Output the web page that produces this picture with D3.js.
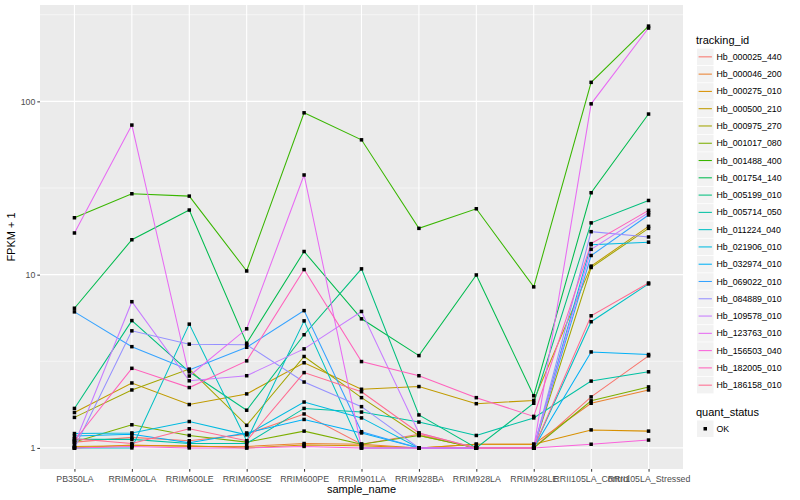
<!DOCTYPE html>
<html>
<head>
<meta charset="utf-8">
<script src="https://cdn.jsdelivr.net/npm/d3@7"></script>
<style>
  body { margin: 0; background: #fff; }
  text { font-family: "Liberation Sans", Arial, sans-serif; }
</style>
</head>
<body>
<script>
var width = 800,
    height = 500,
    panelLeft = 40,
    panelRight = 683,
    panelTop = 5,
    panelBottom = 469;

var samples = ["PB350LA", "RRIM600LA", "RRIM600LE", "RRIM600SE", "RRIM600PE", "RRIM901LA",
               "RRIM928BA", "RRIM928LA", "RRIM928LE", "RRII105LA_Control", "RRII105LA_Stressed"];

var trackingIds = ["Hb_000025_440", "Hb_000046_200", "Hb_000275_010", "Hb_000500_210", "Hb_000975_270",
                   "Hb_001017_080", "Hb_001488_400", "Hb_001754_140", "Hb_005199_010", "Hb_005714_050",
                   "Hb_011224_040", "Hb_021906_010", "Hb_032974_010", "Hb_069022_010", "Hb_084889_010",
                   "Hb_109578_010", "Hb_123763_010", "Hb_156503_040", "Hb_182005_010", "Hb_186158_010"];

// FPKM + 1, one row per tracking id, one value per sample
var fpkm = [
  [1.08, 1.15, 1.10, 1.20, 1.57, 1.05, 1.20, 1.00, 1.00, 1.97, 3.40],
  [1.00, 1.04, 1.02, 1.02, 1.06, 1.05, 1.00, 1.05, 1.05, 1.81, 2.16],
  [1.02, 1.03, 1.03, 1.00, 1.04, 1.03, 1.00, 1.05, 1.05, 1.27, 1.25],
  [1.60, 2.37, 1.78, 2.05, 3.10, 2.18, 2.26, 1.80, 1.88, 11.2, 19.0],
  [1.50, 2.16, 2.85, 1.35, 3.37, 1.95, 1.18, 1.00, 1.00, 11.0, 18.5],
  [1.08, 1.36, 1.18, 1.08, 1.25, 1.05, 1.18, 1.00, 1.00, 1.87, 2.25],
  [21.3, 29.3, 28.4, 10.5, 85.9, 60.0, 18.5, 24.0, 8.5, 128.8, 272],
  [6.4, 15.9, 23.6, 4.02, 13.6, 5.56, 3.41, 9.96, 2.00, 29.7, 84.5],
  [1.69, 5.43, 2.75, 1.65, 4.50, 10.8, 1.55, 1.00, 1.81, 19.9, 26.8],
  [1.12, 1.12, 1.06, 1.06, 1.69, 1.61, 1.41, 1.18, 1.49, 2.43, 2.75],
  [1.00, 1.00, 5.18, 1.10, 5.41, 1.00, 1.00, 1.00, 1.00, 5.35, 8.84],
  [1.21, 1.22, 1.42, 1.19, 1.84, 1.49, 1.00, 1.00, 1.00, 14.9, 15.4],
  [1.17, 1.20, 1.07, 1.22, 1.46, 1.22, 1.00, 1.00, 1.00, 3.58, 3.46],
  [6.10, 3.84, 2.82, 3.81, 6.20, 1.24, 1.00, 1.00, 1.00, 12.9, 22.1],
  [1.00, 4.74, 3.97, 3.94, 2.40, 1.73, 1.00, 1.00, 1.00, 17.7, 16.5],
  [1.05, 6.98, 2.44, 2.61, 3.73, 6.13, 1.22, 1.00, 1.00, 14.0, 22.8],
  [17.4, 73.0, 2.60, 4.87, 37.6, 1.00, 1.00, 1.00, 1.00, 96.8, 265],
  [1.00, 1.02, 1.00, 1.00, 1.02, 1.00, 1.00, 1.00, 1.00, 1.05, 1.11],
  [1.10, 2.88, 2.23, 3.18, 10.7, 3.15, 2.61, 1.95, 1.52, 15.1, 23.5],
  [1.13, 1.06, 1.29, 1.10, 2.72, 2.11, 1.22, 1.00, 1.00, 5.79, 8.95]
];

var yTicks = [1, 10, 100];
var yMinor = [Math.sqrt(10), Math.sqrt(1000), Math.sqrt(100000)];

// ggplot default hue palette for 20 levels
var colors = ["#F8766D", "#EA8331", "#D89000", "#C09B00", "#A3A500", "#7CAE00", "#39B600",
              "#00BB4E", "#00BF7D", "#00C1A3", "#00BFC4", "#00BAE0", "#00B0F6", "#35A2FF",
              "#9590FF", "#C77CFF", "#E76BF3", "#FA62DB", "#FF62BC", "#FF6C91"];

var allValues = d3.merge(fpkm);
var lo = Math.log10(d3.min(allValues)),
    hi = Math.log10(d3.max(allValues)),
    pad = (hi - lo) * 0.05;

var x = d3.scalePoint()
    .domain(samples)
    .range([panelLeft, panelRight])
    .padding(0.6);

var y = d3.scaleLog()
    .domain([Math.pow(10, lo - pad), Math.pow(10, hi + pad)])
    .range([panelBottom, panelTop]);

var svg = d3.select("body").append("svg")
    .attr("width", width)
    .attr("height", height);

svg.append("rect")
    .attr("x", panelLeft)
    .attr("y", panelTop)
    .attr("width", panelRight - panelLeft)
    .attr("height", panelBottom - panelTop)
    .style("fill", "#EBEBEB");

var grid = svg.append("g");
grid.selectAll(".minor").data(yMinor).enter().append("line")
    .attr("x1", panelLeft).attr("x2", panelRight)
    .attr("y1", function (d) { return y(d); })
    .attr("y2", function (d) { return y(d); })
    .style("stroke", "#fff").style("stroke-width", 0.55);
grid.selectAll(".major").data(yTicks).enter().append("line")
    .attr("x1", panelLeft).attr("x2", panelRight)
    .attr("y1", function (d) { return y(d); })
    .attr("y2", function (d) { return y(d); })
    .style("stroke", "#fff").style("stroke-width", 1.1);
grid.selectAll(".vmajor").data(samples).enter().append("line")
    .attr("x1", function (d) { return x(d); })
    .attr("x2", function (d) { return x(d); })
    .attr("y1", panelTop).attr("y2", panelBottom)
    .style("stroke", "#fff").style("stroke-width", 1.1);

var line = d3.line()
    .x(function (d, i) { return x(samples[i]); })
    .y(function (d) { return y(d); });

svg.append("g").selectAll("path")
    .data(fpkm)
    .enter().append("path")
    .attr("d", line)
    .style("fill", "none")
    .style("stroke", function (d, i) { return colors[i]; })
    .style("stroke-width", 1.05);

var pts = [];
fpkm.forEach(function (row) {
    row.forEach(function (v, j) { pts.push({ s: samples[j], v: v }); });
});

svg.append("g").selectAll("rect")
    .data(pts)
    .enter().append("rect")
    .attr("x", function (d) { return x(d.s) - 1.75; })
    .attr("y", function (d) { return y(d.v) - 1.75; })
    .attr("width", 3.5)
    .attr("height", 3.5)
    .style("fill", "#000");

// axes
var yAxis = svg.append("g")
    .attr("transform", "translate(" + panelLeft + ",0)")
    .call(d3.axisLeft(y).tickValues(yTicks).tickFormat(d3.format("d")).tickSize(2.7).tickPadding(2));
var xAxis = svg.append("g")
    .attr("transform", "translate(0," + panelBottom + ")")
    .call(d3.axisBottom(x).tickSize(2.7).tickPadding(2));

[yAxis, xAxis].forEach(function (a) {
    a.select(".domain").remove();
    a.selectAll(".tick line").style("stroke", "#333").style("stroke-width", 1);
    a.selectAll(".tick text")
        .style("fill", "#4D4D4D")
        .style("font-size", "8.8px")
        .style("font-family", "'Liberation Sans', Arial, sans-serif");
});
xAxis.selectAll(".tick text").attr("dy", "0.95em");

svg.append("text")
    .attr("x", (panelLeft + panelRight) / 2)
    .attr("y", 493)
    .attr("text-anchor", "middle")
    .style("font-size", "11px")
    .text("sample_name");

svg.append("text")
    .attr("transform", "translate(15," + (panelTop + panelBottom) / 2 + ") rotate(-90)")
    .attr("text-anchor", "middle")
    .style("font-size", "11px")
    .text("FPKM + 1");

// legend
var legend = svg.append("g").attr("transform", "translate(696,0)");
legend.append("text")
    .attr("x", 0).attr("y", 44)
    .style("font-size", "11px")
    .text("tracking_id");

var keys = legend.selectAll(".key")
    .data(trackingIds)
    .enter().append("g")
    .attr("transform", function (d, i) { return "translate(0," + (48.6 + i * 17.28) + ")"; });
keys.append("rect")
    .attr("x", 1).attr("width", 16.5).attr("height", 16.5)
    .style("fill", "#F2F2F2");
keys.append("line")
    .attr("x1", 2.6).attr("x2", 15.9)
    .attr("y1", 8.25).attr("y2", 8.25)
    .style("stroke", function (d, i) { return colors[i]; })
    .style("stroke-width", 1.05);
keys.append("text")
    .attr("x", 20.5).attr("y", 8.25).attr("dy", "0.35em")
    .style("font-size", "8.8px")
    .text(function (d) { return d; });

legend.append("text")
    .attr("x", 0).attr("y", 416)
    .style("font-size", "11px")
    .text("quant_status");
legend.append("rect")
    .attr("x", 1).attr("y", 420.5).attr("width", 16.5).attr("height", 16.5)
    .style("fill", "#F2F2F2");
legend.append("rect")
    .attr("x", 7.5).attr("y", 427).attr("width", 3.5).attr("height", 3.5)
    .style("fill", "#000");
legend.append("text")
    .attr("x", 20.5).attr("y", 428.75).attr("dy", "0.35em")
    .style("font-size", "8.8px")
    .text("OK");
</script>
</body>
</html>
